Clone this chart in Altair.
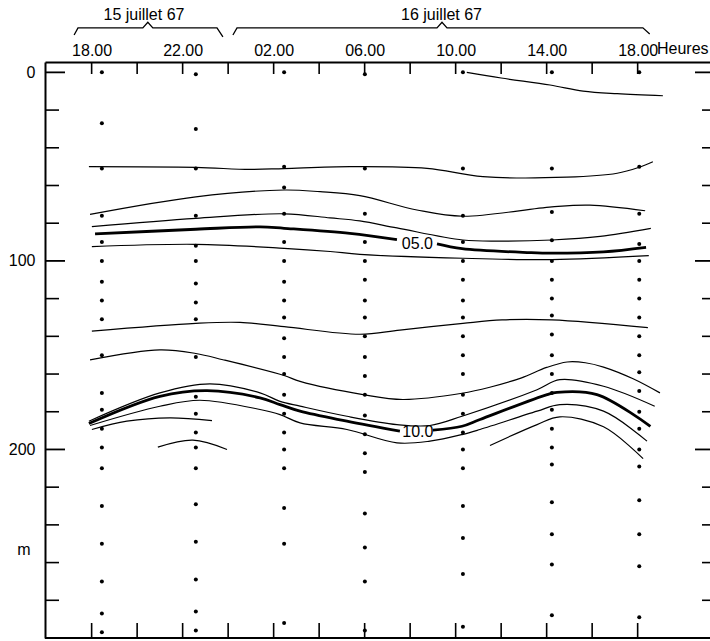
import altair as alt
import pandas as pd

# ---------------- data (time = hours from 15 July 1967 00.00, depth in m) ----------
station_times = [18.45, 22.58, 26.46, 30.01, 34.32, 38.23, 42.07]
station_depths = [
    [0, 27, 51, 76, 90, 100, 111, 121, 131, 150, 170, 179, 189, 199, 210, 230, 250, 270, 287, 297],
    [1, 30, 51, 76, 92, 100, 112, 122, 131, 151, 172, 181, 191, 199, 210, 229, 249, 269, 286, 296],
    [0, 50, 61, 75, 90, 100, 111, 121, 130, 141, 151, 160, 171, 181, 191, 200, 210, 231, 250, 292],
    [1, 51, 75, 90, 100, 110, 121, 130, 140, 151, 161, 171, 182, 192, 202, 212, 234, 252, 270, 296],
    [0, 51, 76, 90, 100, 110, 121, 130, 140, 150, 160, 171, 181, 191, 200, 210, 230, 247, 266, 294],
    [0, 51, 74, 89, 100, 110, 120, 129, 139, 150, 160, 170, 179, 189, 199, 208, 228, 245, 261, 288],
    [0, 50, 75, 91, 100, 110, 120, 130, 140, 150, 159, 169, 180, 189, 200, 209, 227, 245, 262, 289],
]

# isotherms: times and depths
iso_a_t = [34.49, 36.0, 38.15, 39.6, 41.1, 43.11]
iso_a_d = [0, 3.0, 6.7, 9.9, 11.3, 12.4]
iso_b_t = [17.88, 22.58, 24.96, 26.46, 29.35, 32.74, 35.2, 38.89, 41.1, 42.07, 42.67]
iso_b_d = [50, 50.4, 51.5, 51, 50, 50.9, 55.3, 55.6, 53.5, 50.3, 47.4]
iso_c_t = [17.93, 22.58, 26.46, 28.04, 29.79, 32.3, 34.32, 38.23, 39.9, 42.33]
iso_c_d = [75.3, 66, 62.4, 63.3, 65.4, 73, 76.3, 71.3, 70.4, 73.4]
iso_d_t = [18.01, 22.58, 26.46, 28.48, 29.79, 31.42, 34.32, 36.0, 38.23, 40.35, 42.58]
iso_d_d = [81.8, 77.4, 75.0, 77.2, 78.8, 82.5, 88.9, 89.5, 88.9, 87.0, 82.7]
iso_e1_t = [18.15, 22.58, 25.4, 26.46, 29.35, 31.42]
iso_e1_d = [85.7, 83.2, 81.9, 82.7, 85.4, 88.7]
iso_e2_t = [33.18, 34.28, 37.27, 38.23, 40.5, 42.37]
iso_e2_d = [91.0, 93.5, 95.6, 95.9, 95.2, 92.8]
iso_f_t = [18.01, 22.58, 26.46, 28.48, 29.79, 34.32, 38.23, 42.49]
iso_f_d = [92.4, 91.2, 93.3, 95, 96.5, 98.6, 99.3, 97.2]
iso_g_t = [18.01, 22.58, 24.52, 26.46, 29.79, 31.55, 34.32, 36.04, 38.23, 42.45]
iso_g_d = [137.2, 133.1, 132.6, 134.9, 138.9, 136.7, 133.1, 131.3, 131.3, 135.4]
iso_h_t = [17.93, 21.0, 22.58, 23.77, 26.46, 27.16, 29.93, 31.68, 34.28, 35.5, 36.9, 38.0, 38.9, 39.7, 40.5, 41.8, 42.98]
iso_h_d = [152.5, 147.2, 149.1, 152.4, 160.8, 163.9, 170.9, 173.5, 170.2, 167.0, 162.0, 156.5, 153.6, 154.0, 156.3, 162.5, 170.0]
iso_i_t = [17.88, 21.0, 23.2, 25.4, 26.28, 27.16, 29.22, 31.42, 32.87, 34.28, 37.58, 38.58, 40.5, 42.75]
iso_i_d = [185, 170, 165.2, 170, 174.5, 177, 182.4, 186.8, 187.3, 182.4, 168.3, 163, 166.5, 177.1]
iso_j1_t = [17.88, 21.0, 23.07, 25.4, 26.28, 27.16, 29.22, 31.55]
iso_j1_d = [186.2, 171.8, 168.8, 172.6, 176.2, 179.7, 185, 190.3]
iso_j2_t = [33.0, 34.28, 35.07, 38.02, 38.45, 40.21, 42.56]
iso_j2_d = [189.8, 187.7, 184.1, 170.9, 169.7, 170.9, 187.7]
iso_k_t = [17.93, 21.0, 22.76, 25.4, 26.28, 27.16, 29.22, 31.42, 32.87, 34.28, 35.07, 37.58, 38.58, 40.5, 42.41]
iso_k_d = [187.3, 177.1, 173.9, 178.8, 181.5, 185.9, 189.4, 196.5, 195.6, 192.1, 189.4, 179.7, 176.2, 179.7, 195.6]
iso_l_t = [18.01, 19.55, 21.44, 23.29]
iso_l_d = [189.4, 185, 183.2, 184.7]
iso_m_t = [20.91, 22.45, 23.95]
iso_m_d = [198.8, 195.1, 200]
iso_n_t = [35.51, 37.58, 38.58, 40.5, 42.24]
iso_n_d = [197.9, 186.8, 182.7, 188, 204.9]

thin_lines = {
    "a": (iso_a_t, iso_a_d), "b": (iso_b_t, iso_b_d), "c": (iso_c_t, iso_c_d),
    "d": (iso_d_t, iso_d_d), "f": (iso_f_t, iso_f_d), "g": (iso_g_t, iso_g_d),
    "h": (iso_h_t, iso_h_d), "i": (iso_i_t, iso_i_d), "k": (iso_k_t, iso_k_d),
    "l": (iso_l_t, iso_l_d), "m": (iso_m_t, iso_m_d), "n": (iso_n_t, iso_n_d),
}
thick_lines = {
    "e1": (iso_e1_t, iso_e1_d), "e2": (iso_e2_t, iso_e2_d),
    "j1": (iso_j1_t, iso_j1_d), "j2": (iso_j2_t, iso_j2_d),
}

contour_labels = ["05.0", "10.0"]
contour_label_t = [32.32, 32.34]
contour_label_d = [91.0, 190.8]

tick_hours = [18, 22, 26, 30, 34, 38, 42]
tick_labels = ["18.00", "22.00", "02.00", "06.00", "10.00", "14.00", "18.00"]
minor_hours = [18, 20, 22, 24, 26, 28, 30, 32, 34, 36, 38, 40, 42]
depth_labels = [0, 100, 200]
depth_minor = [20, 40, 60, 80, 120, 140, 160, 180, 220, 240, 260, 280]

date_labels = ["15 juillet 67", "16 juillet 67"]
date_label_t = [20.3, 33.38]
bracket1_t = [17.23, 17.40, 20.25, 20.47, 20.69, 23.51, 23.77]
bracket1_d = [-19.8, -23.6, -23.6, -26.6, -23.6, -23.6, -18.8]
bracket2_t = [24.21, 24.39, 33.18, 33.40, 33.62, 42.23, 42.53]
bracket2_d = [-19.8, -23.6, -23.6, -26.6, -23.6, -23.6, -20.4]

# ---------------- tables ----------------
dots = pd.DataFrame([
    {"t": t, "d": d} for t, ds in zip(station_times, station_depths) for d in ds
])


def lines_df(lines):
    rows = []
    for name, (ts, ds) in lines.items():
        for t, d in zip(ts, ds):
            rows.append({"line": name, "t": t, "d": d})
    return pd.DataFrame(rows)


thin_df = lines_df(thin_lines)
thick_df = lines_df(thick_lines)
clab_df = pd.DataFrame({"t": contour_label_t, "d": contour_label_d, "txt": contour_labels})
brackets_df = lines_df({"b1": (bracket1_t, bracket1_d), "b2": (bracket2_t, bracket2_d)})
dates_df = pd.DataFrame({"t": date_label_t, "d": [-27.6, -27.6], "txt": date_labels})
top_ticks_df = pd.DataFrame({"t": minor_hours})
ymaj_df = pd.DataFrame({"d": depth_labels})
ymin_df = pd.DataFrame({"d": depth_minor})
heures_df = pd.DataFrame({"t": [42.85], "d": [-9.5], "txt": ["Heures"]})
m_df = pd.DataFrame({"t": [15.02], "d": [253.4], "txt": ["m"]})

# ---------------- encodings ----------------
W, H = 665, 576
FONT = "Liberation Sans, Arial, sans-serif"

label_expr = " : ".join(
    f"datum.value == {h} ? '{l}'" for h, l in zip(tick_hours, tick_labels)
) + " : ''"

xscale = alt.Scale(domain=[15.95, 45.18], nice=False, zero=False)
yscale = alt.Scale(domain=[-5.5, 300], reverse=True, nice=False, zero=False)
xaxis = alt.Axis(orient="top", values=tick_hours, labelExpr=label_expr, ticks=False,
                 tickSize=0, domain=True, domainColor="black", domainWidth=2,
                 labelFont=FONT, labelFontSize=16, labelColor="black",
                 labelPadding=4, grid=False, title=None, labelOverlap=False)
yaxis = alt.Axis(orient="left", values=depth_labels, ticks=False, tickSize=0,
                 domain=True, domainColor="black", domainWidth=2,
                 labelFont=FONT, labelFontSize=16, labelColor="black",
                 labelPadding=10, grid=False, title=None)

X = alt.X("t:Q", scale=xscale, axis=xaxis)
Y = alt.Y("d:Q", scale=yscale, axis=yaxis)
INTERP = "catmull-rom"

base_dots = alt.Chart(dots).mark_circle(size=16, color="black", opacity=1).encode(x=X, y=Y)

thin = alt.Chart(thin_df).mark_line(color="black", strokeWidth=1.2, interpolate=INTERP).encode(
    x=X, y=Y, detail="line:N")
thick = alt.Chart(thick_df).mark_line(color="black", strokeWidth=2.8, interpolate=INTERP).encode(
    x=X, y=Y, detail="line:N")
clabels = alt.Chart(clab_df).mark_text(font=FONT, fontSize=16, color="black",
                                       align="center", baseline="middle").encode(
    x=X, y=Y, text="txt:N")

top_ticks = alt.Chart(top_ticks_df).mark_rule(color="black", strokeWidth=1.6).encode(
    x=X, y=alt.value(0), y2=alt.value(12))
bottom_ticks = alt.Chart(top_ticks_df).mark_rule(color="black", strokeWidth=1.6).encode(
    x=X, y=alt.value(H - 15), y2=alt.value(H))
left_major = alt.Chart(ymaj_df).mark_rule(color="black", strokeWidth=1.8).encode(
    y=Y, x=alt.value(0), x2=alt.value(20))
left_minor = alt.Chart(ymin_df).mark_rule(color="black", strokeWidth=1.6).encode(
    y=Y, x=alt.value(0), x2=alt.value(14))
right_major = alt.Chart(ymaj_df).mark_rule(color="black", strokeWidth=1.8).encode(
    y=Y, x=alt.value(W - 15), x2=alt.value(W))
right_minor = alt.Chart(ymin_df).mark_rule(color="black", strokeWidth=1.6).encode(
    y=Y, x=alt.value(W - 8), x2=alt.value(W))
bottom_line = alt.Chart(top_ticks_df).mark_rule(color="black", strokeWidth=2).encode(
    x=alt.value(0), x2=alt.value(W), y=alt.value(H))

brackets = alt.Chart(brackets_df).mark_line(color="black", strokeWidth=1.3).encode(
    x=X, y=Y, detail="line:N")
dates = alt.Chart(dates_df).mark_text(font=FONT, fontSize=16, color="black",
                                      align="center", baseline="alphabetic").encode(
    x=X, y=Y, text="txt:N")
heures = alt.Chart(heures_df).mark_text(font=FONT, fontSize=16, color="black",
                                        align="left", baseline="alphabetic").encode(
    x=X, y=Y, text="txt:N")
mlab = alt.Chart(m_df).mark_text(font=FONT, fontSize=16, color="black",
                                 align="center", baseline="middle").encode(
    x=X, y=Y, text="txt:N")

chart = alt.layer(
    base_dots, thin, thick, clabels, top_ticks, bottom_ticks, left_major, left_minor,
    right_major, right_minor, bottom_line, brackets, dates, heures, mlab
).properties(
    width=W, height=H,
    autosize=alt.AutoSizeParams(type="none"),
    padding={"left": 45, "top": 62, "right": 0, "bottom": 3},
    background="white",
).configure_view(stroke=None)

chart.save("out.html", embed_options={"renderer": "svg", "actions": False})
